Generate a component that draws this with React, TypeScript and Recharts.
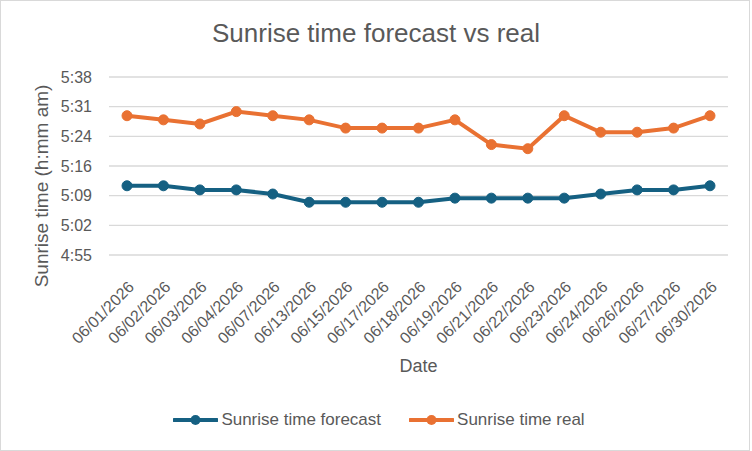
import React from 'react';
import { LineChart, Line, XAxis, YAxis, CartesianGrid, Legend } from 'recharts';

const dates = [
  '06/01/2026', '06/02/2026', '06/03/2026', '06/04/2026', '06/07/2026', '06/13/2026',
  '06/15/2026', '06/17/2026', '06/18/2026', '06/19/2026', '06/21/2026', '06/22/2026',
  '06/23/2026', '06/24/2026', '06/26/2026', '06/27/2026', '06/30/2026'
];
const forecastTimes = [
  '5:12', '5:12', '5:11', '5:11', '5:10', '5:08', '5:08', '5:08', '5:08',
  '5:09', '5:09', '5:09', '5:09', '5:10', '5:11', '5:11', '5:12'
];
const realTimes = [
  '5:29', '5:28', '5:27', '5:30', '5:29', '5:28', '5:26', '5:26', '5:26',
  '5:28', '5:22', '5:21', '5:29', '5:25', '5:25', '5:26', '5:29'
];
// Excel steps the axis by 0.005 day = 7.2 minutes
const yTicks = [295.2, 302.4, 309.6, 316.8, 324, 331.2, 338.4];

const FONT = '"Liberation Sans", Arial, sans-serif';
const TEXT = '#595959';
const BLUE = '#156082';
const ORANGE = '#E97132';

const toMinutes = (t: string) => {
  const [h, m] = t.split(':').map(Number);
  return h * 60 + m;
};

const fmtTime = (v: number) => {
  const total = Math.floor(v + 1e-6);
  const h = Math.floor(total / 60);
  const m = total % 60;
  return `${h}:${m < 10 ? '0' + m : m}`;
};

const data = dates.map((date, i) => ({
  date,
  forecast: toMinutes(forecastTimes[i]),
  real: toMinutes(realTimes[i])
}));

const renderLegend = (props: any) => {
  const { payload } = props;
  return (
    <div
      style={{
        display: 'flex',
        justifyContent: 'center',
        alignItems: 'center',
        height: 30,
        paddingLeft: 6,
        fontFamily: FONT,
        fontSize: 17,
        color: TEXT
      }}
    >
      {(payload || []).map((entry: any, i: number) => (
        <div key={i} style={{ display: 'flex', alignItems: 'center', marginLeft: i === 0 ? 0 : 28 }}>
          <svg width={45} height={12}>
            <line x1={1} y1={6} x2={44} y2={6} stroke={entry.color} strokeWidth={4} strokeLinecap="round" />
            <circle cx={22.5} cy={6} r={5} fill={entry.color} />
          </svg>
          <span style={{ marginLeft: 3 }}>{entry.value}</span>
        </div>
      ))}
    </div>
  );
};

const renderYLabel = (props: any) => {
  const vb = props.viewBox || { x: 0, y: 77, width: 109, height: 178 };
  const x = vb.x + 41;
  const y = vb.y + vb.height / 2 + 20;
  return (
    <text
      x={x}
      y={y}
      transform={`rotate(-90 ${x} ${y})`}
      textAnchor="middle"
      dominantBaseline="central"
      fontFamily={FONT}
      fontSize={19}
      fill={TEXT}
    >
      Sunrise time (h:mm am)
    </text>
  );
};

export default function App() {
  return (
    <div style={{ position: 'absolute', left: 0, top: 0, width: 752, height: 451, background: '#fff' }}>
      <div
        style={{
          position: 'absolute',
          left: 0,
          top: 0,
          width: 750,
          height: 451,
          border: '1.5px solid #D9D9D9',
          boxSizing: 'border-box',
          pointerEvents: 'none'
        }}
      />
      <div
        style={{
          position: 'absolute',
          left: 0,
          top: 18,
          width: 752,
          height: 30,
          lineHeight: '30px',
          textAlign: 'center',
          fontFamily: FONT,
          fontSize: 26,
          color: TEXT
        }}
      >
        Sunrise time forecast vs real
      </div>
      <LineChart width={752} height={451} data={data} margin={{ top: 77, right: 24, left: 0, bottom: 16 }}>
        <CartesianGrid vertical={false} stroke="#D9D9D9" strokeWidth={1.3} />
        <XAxis
          dataKey="date"
          interval={0}
          angle={-45}
          textAnchor="end"
          tickMargin={19}
          tickLine={false}
          axisLine={false}
          height={150}
          padding={{ left: 18, right: 18 }}
          tick={{ fontFamily: FONT, fontSize: 16, fill: TEXT }}
          label={{
            value: 'Date',
            position: 'insideBottom',
            offset: 33,
            style: { fontFamily: FONT, fontSize: 18, fill: TEXT }
          }}
        />
        <YAxis
          width={109}
          domain={[295.2, 338.4]}
          ticks={yTicks}
          tickFormatter={fmtTime}
          tickLine={false}
          axisLine={false}
          tickMargin={11}
          tick={{ fontFamily: FONT, fontSize: 16, fill: TEXT }}
          label={renderYLabel}
        />
        <Legend verticalAlign="bottom" content={renderLegend} wrapperStyle={{ left: 0, width: 752 }} />
        <Line
          type="linear"
          dataKey="forecast"
          name="Sunrise time forecast"
          stroke={BLUE}
          strokeWidth={4}
          dot={{ r: 5, fill: BLUE, stroke: BLUE, strokeWidth: 1 }}
          activeDot={false}
          isAnimationActive={false}
        />
        <Line
          type="linear"
          dataKey="real"
          name="Sunrise time real"
          stroke={ORANGE}
          strokeWidth={4}
          dot={{ r: 5, fill: ORANGE, stroke: ORANGE, strokeWidth: 1 }}
          activeDot={false}
          isAnimationActive={false}
        />
      </LineChart>
    </div>
  );
}
